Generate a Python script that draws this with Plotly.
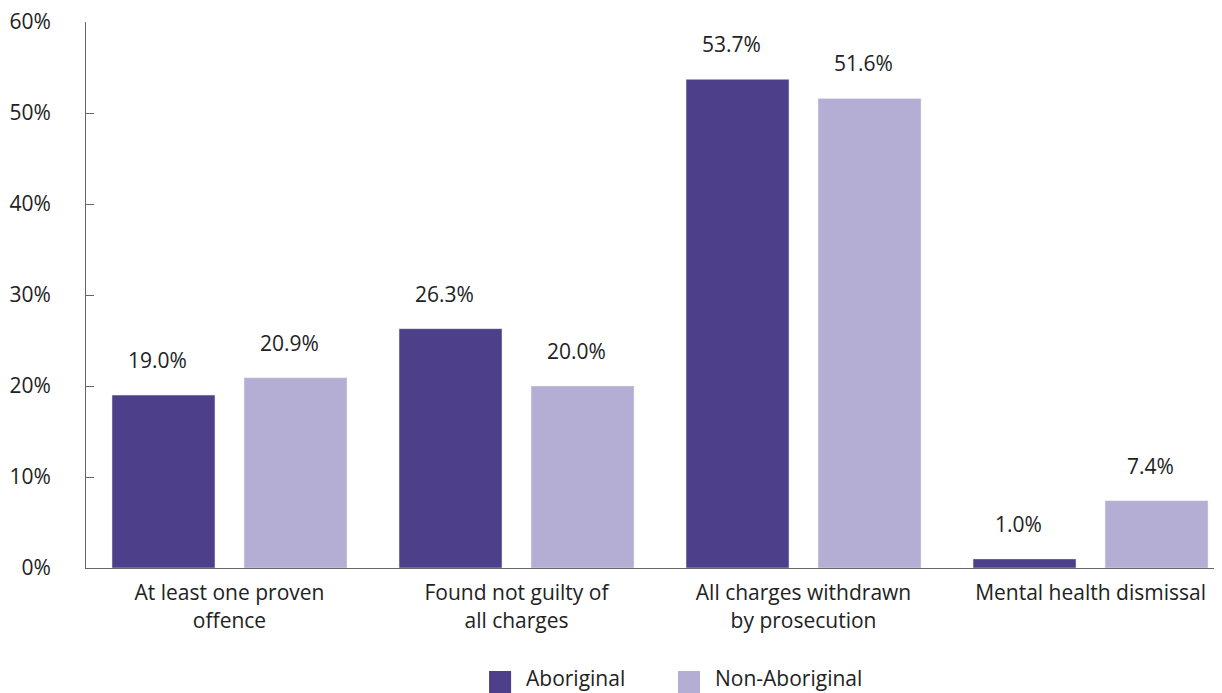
import plotly.graph_objects as go

# Chart data
categories = [
    "At least one proven<br>offence",
    "Found not guilty of<br>all charges",
    "All charges withdrawn<br>by prosecution",
    "Mental health dismissal",
]
series_names = ["Aboriginal", "Non-Aboriginal"]
aboriginal = [19.0, 26.3, 53.7, 1.0]
non_aboriginal = [20.9, 20.0, 51.6, 7.4]
y_ticks = [0, 10, 20, 30, 40, 50, 60]

DARK = "#4E3F8B"
LIGHT = "#B4ADD4"
TEXT = "#222222"
AXIS = "#666666"
FONT = "Open Sans, Noto Sans, sans-serif"
FS = 21

fig = go.Figure()
fig.add_trace(go.Bar(name=series_names[0], x=categories, y=aboriginal, marker_color=DARK))
fig.add_trace(go.Bar(name=series_names[1], x=categories, y=non_aboriginal, marker_color=LIGHT))

# Value labels above each bar (sit slightly left of bar centre, as in the original)
for series, shift in ((aboriginal, -72), (non_aboriginal, 60)):
    for cat, val in zip(categories, series):
        fig.add_annotation(
            x=cat, y=val, text=f"{val:.1f}%", showarrow=False,
            xshift=shift, yshift=35, yanchor="middle",
            font=dict(size=FS, color=TEXT, family=FONT),
        )

# Legend drawn by hand so the swatches are large squares
legend_spots = [(0.3548, DARK), (0.5211, LIGHT)]
for name, (lx, color) in zip(series_names, legend_spots):
    fig.add_shape(
        type="rect", xref="paper", yref="paper",
        x0=lx, x1=lx + 0.0194, y0=-0.229, y1=-0.1886,
        fillcolor=color, line_width=0,
    )
    fig.add_annotation(
        xref="paper", yref="paper", x=lx + 0.0305, y=-0.202,
        text=name, showarrow=False, xanchor="left", yanchor="middle",
        font=dict(size=FS, color=TEXT, family=FONT),
    )

fig.update_layout(
    width=1214,
    height=685,
    paper_bgcolor="white",
    plot_bgcolor="white",
    font=dict(family=FONT, size=FS, color=TEXT),
    margin=dict(l=78, r=0, t=14, b=125),
    barmode="group",
    bargap=0.08,
    bargroupgap=0.22,
    showlegend=False,
    xaxis=dict(
        range=[-0.5, 3.458], showline=True, linecolor=AXIS, linewidth=1,
        ticks="", showgrid=False, tickfont=dict(size=FS, color=TEXT),
        ticklabelstandoff=6,
    ),
    yaxis=dict(
        range=[0, 60], tickvals=y_ticks, ticktext=[f"{t}%" for t in y_ticks],
        showline=True, linecolor=AXIS, linewidth=1, ticks="inside", ticklen=8,
        tickcolor=AXIS, showgrid=False, zeroline=False, ticklabelstandoff=30,
        ticklabeloverflow="allow", tickfont=dict(size=FS, color=TEXT),
    ),
)

fig.write_html("out.html")
